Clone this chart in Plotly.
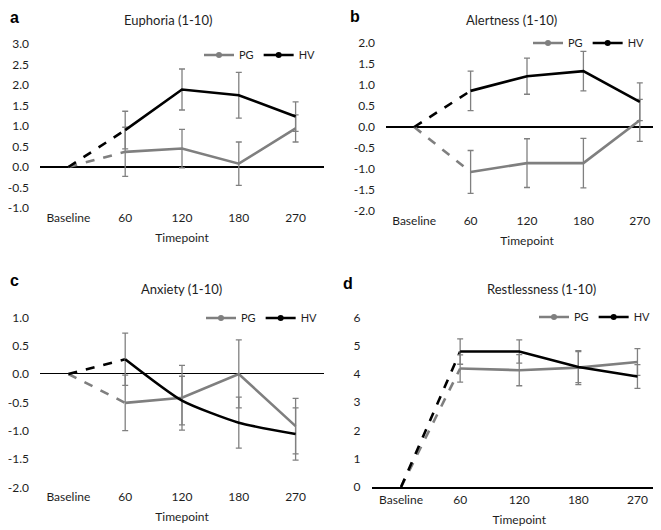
import plotly.graph_objects as go

# ---------------- data ----------------
categories = ["Baseline", "60", "120", "180", "270"]

euph_pg = [0, 0.37, 0.45, 0.08, 0.94]
euph_pg_err = [0.60, 0.47, 0.53, 0.33]
euph_hv = [0, 0.90, 1.89, 1.75, 1.23]
euph_hv_err = [0.46, 0.50, 0.56, 0.36]

alert_pg = [0, -1.07, -0.86, -0.86, 0.16]
alert_pg_err = [0.51, 0.58, 0.59, 0.50]
alert_hv = [0, 0.86, 1.21, 1.33, 0.60]
alert_hv_err = [0.47, 0.43, 0.47, 0.45]

anx_pg = [0, -0.51, -0.42, 0.0, -0.92]
anx_pg_err = [0.49, 0.57, 0.60, 0.49]
anx_hv = [0, 0.26, -0.47, -0.86, -1.06]
anx_hv_err = [0.46, 0.43, 0.45, 0.46]

rest_pg = [0, 4.19, 4.13, 4.22, 4.42]
rest_pg_err = [0.48, 0.55, 0.60, 0.47]
rest_hv = [0, 4.79, 4.79, 4.24, 3.91]
rest_hv_err = [0.45, 0.41, 0.55, 0.42]

euph_yticks = [-1.0, -0.5, 0.0, 0.5, 1.0, 1.5, 2.0, 2.5, 3.0]
alert_yticks = [-2.0, -1.5, -1.0, -0.5, 0.0, 0.5, 1.0, 1.5, 2.0]
anx_yticks = [-2.0, -1.5, -1.0, -0.5, 0.0, 0.5, 1.0]
rest_yticks = [0, 1, 2, 3, 4, 5, 6]

titles = ["Euphoria (1-10)", "Alertness (1-10)", "Anxiety (1-10)", "Restlessness (1-10)"]
panel_letters = ["a", "b", "c", "d"]
series_names = ["PG", "HV"]

# ---------------- style ----------------
W, H = 661, 530
FONT = "Lato"
TXT = "#1e1e1e"
GRAY = "#7f7f7f"
BLACK = "#000000"
ERR = "#808080"


def px_x(p):
    return p / W


def px_y(p):
    return 1 - p / H


panels = [
    dict(data=(euph_pg, euph_pg_err, euph_hv, euph_hv_err), ticks=euph_yticks, fmt="{:.1f}",
         xdom=(32, 316), ydom=(200, 36), zw=2, spline=False,
         title_xy=(160, 12), letter_xy=(6, 10), leg_xy=(313, 47)),
    dict(data=(alert_pg, alert_pg_err, alert_hv, alert_hv_err), ticks=alert_yticks, fmt="{:.1f}",
         xdom=(378, 660), ydom=(203, 35), zw=2, spline=False,
         title_xy=(503, 12), letter_xy=(347, 9), leg_xy=(642, 35)),
    dict(data=(anx_pg, anx_pg_err, anx_hv, anx_hv_err), ticks=anx_yticks, fmt="{:.1f}",
         xdom=(32, 316), ydom=(479.3, 309.3), zw=1.3, spline=True,
         title_xy=(173, 281), letter_xy=(6, 272), leg_xy=(315, 310)),
    dict(data=(rest_pg, rest_pg_err, rest_hv, rest_hv_err), ticks=rest_yticks, fmt="{:d}",
         xdom=(363.5, 659), ydom=(479, 309.3), zw=2, spline=False,
         title_xy=(533, 281), letter_xy=(340, 275), leg_xy=(648, 309)),
]

fig = go.Figure()
layout = dict(
    template="none",
    width=W, height=H,
    margin=dict(l=0, r=0, t=0, b=0, autoexpand=False),
    paper_bgcolor="white", plot_bgcolor="white",
    font=dict(family=FONT, size=12, color=TXT),
    annotations=[],
)

for i, p in enumerate(panels):
    n = "" if i == 0 else str(i + 1)
    xa, ya = "x" + n, "y" + n
    leg = "legend" + n
    pg, pg_err, hv, hv_err = p["data"]

    # dashed segments Baseline -> 60
    for vals, col in ((pg, GRAY), (hv, BLACK)):
        fig.add_trace(go.Scatter(
            x=categories[:2], y=vals[:2], mode="lines", xaxis=xa, yaxis=ya,
            line=dict(color=col, width=2.6, dash="dash"), showlegend=False, hoverinfo="skip"))
    # solid segments 60 -> 270 with error bars
    for vals, err, col, shp in ((pg, pg_err, GRAY, "linear"),
                                (hv, hv_err, BLACK, "spline" if p["spline"] else "linear")):
        fig.add_trace(go.Scatter(
            x=categories[1:], y=vals[1:], mode="lines", xaxis=xa, yaxis=ya,
            line=dict(color=col, width=2.6, shape=shp, smoothing=0.6),
            error_y=dict(type="data", array=err, visible=True, color=ERR, thickness=1.3, width=3),
            showlegend=False))
    # legend entries
    for name, col in zip(series_names, (GRAY, BLACK)):
        fig.add_trace(go.Scatter(
            x=[None], y=[None], mode="lines+markers", name=name, xaxis=xa, yaxis=ya,
            line=dict(color=col, width=2.6), marker=dict(color=col, size=6),
            legend=leg, showlegend=True))

    ymin, ymax = p["ticks"][0], p["ticks"][-1]
    layout["xaxis" + n] = dict(
        domain=[px_x(p["xdom"][0]), px_x(p["xdom"][1])], anchor=ya, automargin=False,
        type="category", categoryorder="array", categoryarray=categories,
        range=[-0.5, 4.5], showgrid=False, zeroline=False,
        showline=(i == 3), linecolor=BLACK, linewidth=2,
        ticks="", ticklabelstandoff=1, tickfont=dict(size=12, color=TXT),
        title=dict(text="Timepoint", font=dict(size=12, color=TXT), standoff=9),
    )
    layout["yaxis" + n] = dict(
        domain=[px_y(p["ydom"][0]), px_y(p["ydom"][1])], anchor=xa, automargin=False,
        range=[ymin, ymax], showgrid=False, showline=False, ticks="",
        zeroline=(i != 3), zerolinecolor=BLACK, zerolinewidth=p["zw"],
        tickvals=p["ticks"], ticktext=[p["fmt"].format(v) for v in p["ticks"]],
        ticklabelstandoff=10, tickfont=dict(size=12, color=TXT),
    )
    layout[leg] = dict(
        orientation="h", x=px_x(p["leg_xy"][0]), y=px_y(p["leg_xy"][1]),
        xanchor="right", yanchor="middle", bgcolor="rgba(0,0,0,0)",
        font=dict(size=11, color=TXT), itemwidth=30, tracegroupgap=0,
    )
    layout["annotations"].append(dict(
        text=titles[i], x=px_x(p["title_xy"][0]), y=px_y(p["title_xy"][1]),
        xref="paper", yref="paper", showarrow=False, xanchor="center", yanchor="middle",
        font=dict(size=13, color=TXT)))
    layout["annotations"].append(dict(
        text="<b>%s</b>" % panel_letters[i], x=px_x(p["letter_xy"][0]), y=px_y(p["letter_xy"][1]),
        xref="paper", yref="paper", showarrow=False, xanchor="center", yanchor="middle",
        font=dict(size=16, color=BLACK, family="Liberation Sans")))

fig.update_layout(**layout)
fig.write_html("out.html")
